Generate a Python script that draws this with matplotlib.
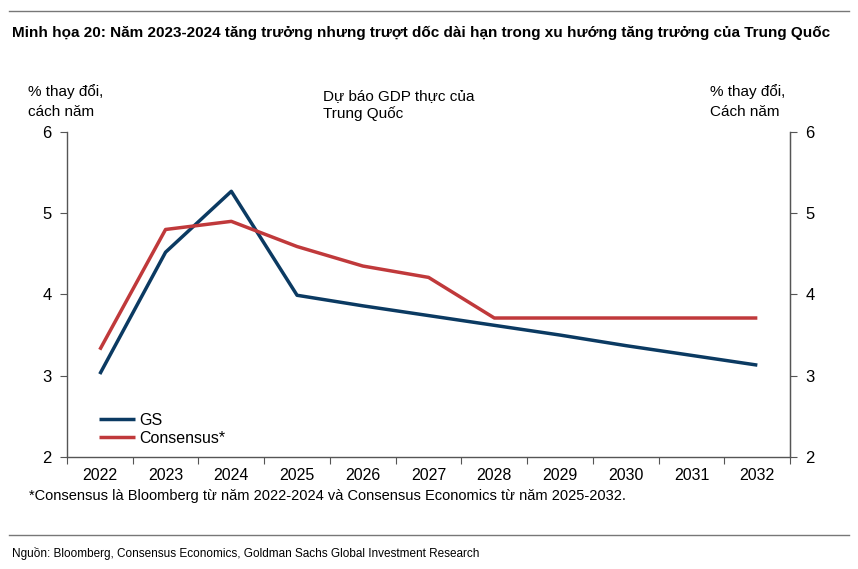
import matplotlib.pyplot as plt
from matplotlib.lines import Line2D
import numpy as np

plt.rcParams["font.family"] = ["Liberation Sans", "DejaVu Sans"]

years = ["2022", "2023", "2024", "2025", "2026", "2027", "2028", "2029", "2030", "2031", "2032"]
gs = [3.02, 4.52, 5.27, 3.99, 3.86, 3.74, 3.62, 3.50, 3.37, 3.25, 3.13]
consensus = [3.32, 4.80, 4.90, 4.59, 4.35, 4.21, 3.71, 3.71, 3.71, 3.71, 3.71]
y_ticks = [2, 3, 4, 5, 6]

navy = "#0b3a62"
red = "#c0393b"
spine = "#555555"

fig = plt.figure(figsize=(8.58, 5.69), dpi=100)
ax = fig.add_axes([0.078, 0.197, 0.843, 0.571])

x = np.arange(len(years))
ax.plot(x, gs, color=navy, lw=2.5, label="GS", solid_capstyle="butt")
ax.plot(x, consensus, color=red, lw=2.5, label="Consensus*", solid_capstyle="butt")

ax.set_xlim(-0.5, len(years) - 0.5)
ax.set_ylim(2, 6)
ax.set_yticks(y_ticks)
ax.set_xticks(np.arange(-0.5, len(years), 1.0))
ax.set_xticklabels([])
ax.set_xticks(x, minor=True)
ax.set_xticklabels(years, minor=True, fontsize=11.5)
ax.tick_params(axis="x", which="minor", length=0, pad=8)
ax.tick_params(axis="x", which="major", length=5, color=spine, direction="out")
ax.tick_params(axis="y", length=5, color=spine, labelsize=12, pad=6)

ax.spines["top"].set_visible(False)
for s in ["left", "right", "bottom"]:
    ax.spines[s].set_color(spine)
    ax.spines[s].set_linewidth(1.0)

ax2 = ax.twinx()
ax2.set_ylim(2, 6)
ax2.set_yticks(y_ticks)
ax2.tick_params(axis="y", length=5, color=spine, labelsize=12, pad=6)
ax2.spines["top"].set_visible(False)
ax2.spines["right"].set_color(spine)
ax2.spines["left"].set_visible(False)
ax2.spines["bottom"].set_visible(False)

ax.legend(loc="lower left", bbox_to_anchor=(0.025, -0.01), frameon=False,
          fontsize=11.5, handlelength=2.2, handletextpad=0.3, labelspacing=0.2)

fig.add_artist(Line2D([0.01, 0.99], [0.981, 0.981], color="#777777", lw=1.0))
fig.text(0.014, 0.942, "Minh họa 20: Năm 2023-2024 tăng trưởng nhưng trượt dốc dài hạn trong xu hướng tăng trưởng của Trung Quốc",
         fontsize=11, fontweight="bold", va="center")

fig.text(0.033, 0.822, "% thay đổi,\ncách năm", fontsize=11, va="center", linespacing=1.5)
fig.text(0.828, 0.822, "% thay đổi,\nCách năm", fontsize=11, va="center", linespacing=1.5)
fig.text(0.376, 0.815, "Dự báo GDP thực của\nTrung Quốc", fontsize=11, va="center", linespacing=1.3)

fig.text(0.034, 0.128, "*Consensus là Bloomberg từ năm 2022-2024 và Consensus Economics từ năm 2025-2032.",
         fontsize=10.5, va="center")

fig.add_artist(Line2D([0.01, 0.99], [0.06, 0.06], color="#777777", lw=1.0))
fig.text(0.014, 0.027, "Nguồn: Bloomberg, Consensus Economics, Goldman Sachs Global Investment Research",
         fontsize=8.5, va="center")

fig.savefig("out.png", dpi=100)
